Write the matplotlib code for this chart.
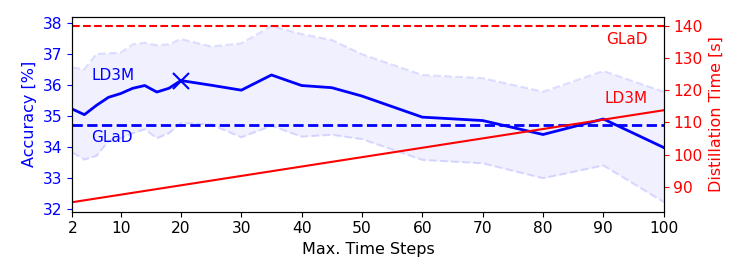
import matplotlib
matplotlib.use("Agg")
import matplotlib.pyplot as plt

# Accuracy of LD3M over the number of time steps
steps = [2, 4, 6, 8, 10, 12, 14, 16, 18, 20, 25, 30, 35, 40, 45, 50, 60, 70, 80, 90, 100]
acc_mean = [35.23, 35.05, 35.35, 35.61, 35.73, 35.90, 35.99, 35.78, 35.90, 36.15, 36.00,
            35.84, 36.33, 35.99, 35.92, 35.65, 34.97, 34.86, 34.41, 34.91, 33.99]
acc_upper = [36.57, 36.52, 37.01, 37.03, 37.05, 37.32, 37.37, 37.29, 37.32, 37.49, 37.25,
             37.35, 37.91, 37.65, 37.46, 37.00, 36.33, 36.23, 35.79, 36.46, 35.79]
acc_lower = [33.83, 33.60, 33.72, 34.20, 34.29, 34.45, 34.58, 34.29, 34.45, 34.78, 34.73,
             34.32, 34.69, 34.34, 34.40, 34.26, 33.59, 33.48, 33.00, 33.41, 32.23]
best_step = 20
best_acc = 36.15
glad_acc = 34.72

# Distillation time
time_steps = [2, 100]
ld3m_time = [85.2, 113.8]
glad_time = 140.0

fig = plt.figure(figsize=(7.47, 2.8), dpi=100)
ax = fig.add_axes([0.0968, 0.2439, 0.7917, 0.6965])

ax.fill_between(steps, acc_lower, acc_upper, color='blue', alpha=0.06, lw=0)
ax.plot(steps, acc_upper, color='blue', alpha=0.12, ls='--', lw=1.5)
ax.plot(steps, acc_lower, color='blue', alpha=0.12, ls='--', lw=1.5)
ax.plot(steps, acc_mean, color='blue', lw=2)
ax.plot([best_step], [best_acc], 'x', color='blue', markersize=12, mew=1.5)
ax.axhline(glad_acc, color='blue', ls='--', lw=2)
ax.text(5.1, 36.3, 'LD3M', color='blue', fontsize=11, va='center', ha='left')
ax.text(5.1, 34.3, 'GLaD', color='blue', fontsize=11, va='center', ha='left')

ax.set_xlim(2, 100)
ax.set_ylim(31.92, 38.21)
ax.set_xticks([2, 10, 20, 30, 40, 50, 60, 70, 80, 90, 100])
ax.set_yticks([32, 33, 34, 35, 36, 37, 38])
ax.set_xlabel('Max. Time Steps', fontsize=11.5)
ax.set_ylabel('Accuracy [%]', color='blue', fontsize=11.5)
ax.tick_params(axis='y', colors='blue', labelsize=11.2)
ax.tick_params(axis='x', labelsize=11.2)
ax.spines['left'].set_color('black')

ax2 = ax.twinx()
ax2.plot(time_steps, ld3m_time, color='red', lw=1.5)
ax2.axhline(glad_time, color='red', ls='--', lw=1.5)
ax2.text(97.3, 135.7, 'GLaD', color='red', fontsize=11, va='center', ha='right')
ax2.text(97.3, 117.5, 'LD3M', color='red', fontsize=11, va='center', ha='right')
ax2.set_ylim(82.24, 142.9)
ax2.set_yticks([90, 100, 110, 120, 130, 140])
ax2.set_ylabel('Distillation Time [s]', color='red', fontsize=11.5)
ax2.tick_params(axis='y', colors='red', labelsize=11.2)
ax2.spines['right'].set_color('black')

fig.savefig('out.png', dpi=100)
